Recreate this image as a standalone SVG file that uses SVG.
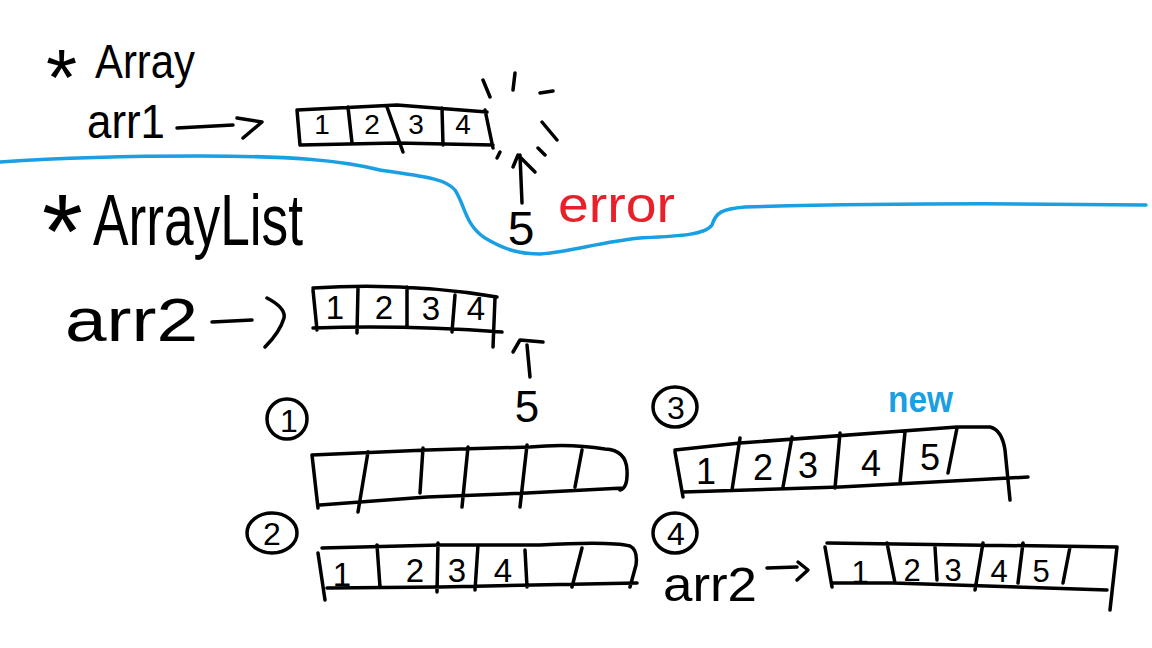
<svg xmlns="http://www.w3.org/2000/svg" width="1152" height="648" viewBox="0 0 1152 648">
<style>
.s{fill:none;stroke:#000;stroke-width:3.5;stroke-linecap:round;stroke-linejoin:round}
.t{font-family:"Liberation Sans",Arial,sans-serif;fill:#000}
.d{font-family:"Liberation Sans",Arial,sans-serif;fill:#000;text-anchor:middle}
.blue{fill:none;stroke:#1a9fe3;stroke-width:3.5;stroke-linecap:round;stroke-linejoin:round}
</style>
<rect width="1152" height="648" fill="#fff"/>
<path class="blue" d="M0,162 C60,158 110,156 200,156 S340,160 380,170 C420,176 445,178 455,190 C465,205 465,225 485,238 C505,250 520,254 540,254 C570,252 600,242 640,238 C680,236 705,235 712,225 C716,212 722,209 745,207 C850,204 1000,203 1146,205"/>
<g id="title-array">
<text class="t" x="46" y="105" font-size="80">*</text>
<text class="t" x="95" y="78" font-size="48" textLength="100" lengthAdjust="spacingAndGlyphs">Array</text>
</g>
<g id="arr1-label"><text class="t" x="87" y="138" font-size="48" textLength="78" lengthAdjust="spacingAndGlyphs">arr1</text></g>
<g id="array1">
<path class="s" d="M297,110 L397,105 L487,112 M485,110 L493,148 M300,145 L397,143 L493,145 M297,110 L300,145 M348,107 L352,143 M387,107 L403,152 M442,108 L443,145 M500,152 L497,158"/>
<text class="d" x="322" y="134" font-size="28">1</text>
<text class="d" x="372" y="134" font-size="28">2</text>
<text class="d" x="416" y="134" font-size="28">3</text>
<text class="d" x="463" y="134" font-size="28">4</text>
</g>
<g id="sparkle">
<path class="s" d="M483,80 L490,97 M515,73 L513,90 M540,93 L553,91 M542,122 L557,140 M538,148 L545,155"/>
</g>
<g id="five-top"><text class="d" x="521" y="245" font-size="48">5</text></g>
<g id="error-label"><text x="558" y="222" font-size="50" textLength="117" lengthAdjust="spacingAndGlyphs" font-family="Liberation Sans, Arial, sans-serif" fill="#e8202a">error</text></g>
<g id="title-arraylist">
<text class="t" x="42" y="268" font-size="105">*</text>
<text class="t" x="93" y="245" font-size="72" textLength="210" lengthAdjust="spacingAndGlyphs">ArrayList</text>
</g>
<g id="arr2-label"><text class="t" x="65" y="341" font-size="62" textLength="133" lengthAdjust="spacingAndGlyphs">arr2</text></g>
<g id="array2">
<path class="s" d="M313,288 Q407,282 497,297 M313,290 L317,330 M313,328 Q407,325 502,332 M495,298 L493,347 M358,288 L357,333 M407,287 L407,327 M455,295 L452,332"/>
<text class="d" x="335" y="319" font-size="33">1</text>
<text class="d" x="384" y="319" font-size="33">2</text>
<text class="d" x="431" y="320" font-size="33">3</text>
<text class="d" x="476" y="320" font-size="33">4</text>
</g>
<g id="five-mid"><text class="d" x="527" y="422" font-size="44">5</text></g>
<g id="step1">
<ellipse class="s" cx="287" cy="419" rx="20" ry="20"/>
<text class="d" x="289" y="432" font-size="32">1</text>
<path class="s" d="M312,455 L427,450 L530,447 Q570,443 605,449 Q626,450 627,470 Q628,488 620,490 M320,505 L427,497 L527,493 L623,488 M312,455 L318,508 M368,452 L358,512 M423,448 L420,493 M468,447 L462,507 M527,445 L520,507 M582,450 L575,487"/>
</g>
<g id="step2">
<ellipse class="s" cx="272" cy="533" rx="25" ry="20"/>
<text class="d" x="272" y="545" font-size="32">2</text>
<path class="s" d="M322,548 L440,545 L540,545 Q610,541 630,546 Q638,550 636,565 L630,587 M327,588 L440,587 L637,583 M318,553 L325,600 M377,545 L380,587 M438,543 L437,592 M478,545 L475,590 M525,550 L527,587 M582,548 L572,587"/>
<text class="d" x="342" y="586" font-size="33">1</text>
<text class="d" x="415" y="582" font-size="33">2</text>
<text class="d" x="457" y="582" font-size="33">3</text>
<text class="d" x="503" y="582" font-size="33">4</text>
</g>
<g id="step3">
<ellipse class="s" cx="675" cy="407" rx="22" ry="20"/>
<text class="d" x="676" y="419" font-size="32">3</text>
<text x="888" y="412" font-size="36" font-weight="bold" textLength="65" lengthAdjust="spacingAndGlyphs" font-family="Liberation Sans, Arial, sans-serif" fill="#1a9fe3">new</text>
<path class="s" d="M675,450 L740,443 L957,427 L990,427 Q1002,430 1005,450 L1010,500 M683,492 L840,487 L1028,477 M675,452 L683,497 M740,438 L732,490 M792,437 L783,487 M840,433 L835,488 M905,432 L900,483 M957,428 L948,473"/>
<text class="d" x="706" y="484" font-size="36">1</text>
<text class="d" x="763" y="480" font-size="36">2</text>
<text class="d" x="808" y="478" font-size="36">3</text>
<text class="d" x="871" y="476" font-size="36">4</text>
<text class="d" x="930" y="470" font-size="36">5</text>
</g>
<g id="step4">
<ellipse class="s" cx="675" cy="533" rx="22" ry="20"/>
<text class="d" x="676" y="545" font-size="32">4</text>
<text class="t" x="663" y="601" font-size="48" textLength="94" lengthAdjust="spacingAndGlyphs">arr2</text>
<path class="s" d="M827,543 L1117,547 M1117,547 L1110,610 M833,583 L893,583 L1107,590 M825,547 L832,587 M887,543 L895,583 M935,547 L937,580 M983,543 L975,590 M1023,543 L1018,583 M1070,547 L1063,583"/>
<text class="d" x="860" y="583" font-size="31">1</text>
<text class="d" x="912" y="581" font-size="31">2</text>
<text class="d" x="953" y="581" font-size="31">3</text>
<text class="d" x="999" y="582" font-size="31">4</text>
<text class="d" x="1041" y="582" font-size="31">5</text>
</g>
<g id="connectors">
<path class="s" d="M177,128 L233,125 M237,118 L262,122 L243,138"/>
<path class="s" d="M522,203 L520,155 M513,167 L518,155 L535,172"/>
<path class="s" d="M212,322 L252,320 M267,298 Q286,308 284,318 Q280,332 265,347"/>
<path class="s" d="M530,377 L527,345 M513,352 L520,340 L543,342"/>
<path class="s" d="M767,568 L797,567 M798,562 L808,570 L797,580"/>
</g>
</svg>
